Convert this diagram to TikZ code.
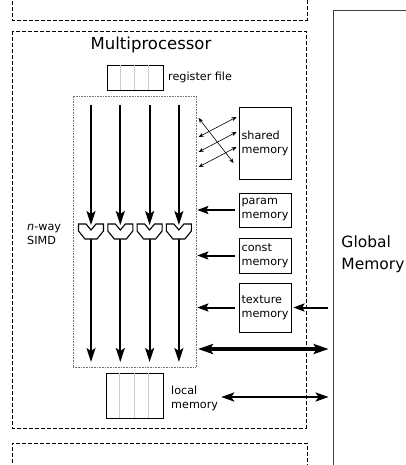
\documentclass[tikz,border=0pt]{standalone}
\usepackage{fontspec}
\setmainfont{DejaVu Sans}
\usetikzlibrary{arrows.meta}

\begin{document}
\begin{tikzpicture} [x=1pt, y=-1pt, line join=miter,
	membox/.style = {draw, line width=0.8pt, minimum width=52pt, inner xsep=2pt, align=left, font=\fontsize{11.2}{14}\selectfont},
	frame/.style = {draw, line width=0.8pt, dash pattern=on 4pt off 2pt},
	lbl/.style = {align=left, inner sep=2pt, font=\fontsize{11.2}{14}\selectfont},
	lane/.style = {line width=1.8pt, -{Stealth[length=14pt, width=9pt, inset=3pt]}},
	feed/.style = {line width=2pt, -{Stealth[length=11pt, width=8pt, inset=2pt]}},
	xfer/.style = {line width=0.6pt, {Stealth[length=5pt, width=4pt]}-{Stealth[length=5pt, width=4pt]}},
	alu/.style = {draw, line width=1.1pt, fill=white}]
\def\lanex{91}
\def\lanesep{29.3}
\newcommand{\aluunit}[1]{\draw[alu] (#1-12.5,224) -- ++(7.5,0) -- ++(5,6) -- ++(5,-6) -- ++(7.5,0) -- ++(0,7) -- ++(-6.5,8) -- ++(-12,0) -- ++(-6.5,-8) -- cycle;}
\useasboundingbox (0,0) rectangle (406,465);
\clip (0,0) rectangle (406,465);

% neighbouring multiprocessors and the global memory
\draw[frame] (12,-5) -- (12,20) -- (307,20) -- (307,-5);
\draw[frame] (12,475) -- (12,443) -- (307,443) -- (307,475);
\node[draw, line width=0.8pt, draw=black!75, minimum width=80pt, minimum height=488pt, align=left, font=\fontsize{15.5}{22}\selectfont] (global) at (373,254) {Global\\Memory};

% the multiprocessor
\draw[frame] (12,31) rectangle (306,428);
\node[font=\fontsize{16.5}{20}\selectfont] (title) at (151,45) {Multiprocessor};

% register file
\node[draw, line width=0.8pt, minimum width=56pt, minimum height=25pt] (regs) at (135,77.5) {};
\foreach \j in {1,2,3}
	\draw[black!20, line width=0.8pt] ([xshift=\j*14pt]regs.north west) -- ([xshift=\j*14pt]regs.south west);
\node[lbl, anchor=west] (regslbl) at (166,77) {register file};

% SIMD lanes
\node[draw, black!55, densely dotted, line width=0.6pt, minimum width=123pt, minimum height=271pt] (simd) at (134.5,231.5) {};
\node[lbl, anchor=west] (simdlbl) at (25,234) {\textit{n}-way\\SIMD};
\foreach \i in {0,...,3} {
	\pgfmathsetmacro{\x}{\lanex+\lanesep*\i}
	\coordinate (in\i) at (\x,105);
	\coordinate (alu\i) at (\x,225);
	\coordinate (aluout\i) at (\x,239);
	\coordinate (out\i) at (\x,362);
	\draw[lane] (in\i) -- (alu\i);
	\draw[line width=1.8pt] (aluout\i) -- ++(0,10);
	\draw[lane] (aluout\i) -- (out\i);
	\aluunit{\x}
}

% on-chip memories
\node[membox, minimum height=72pt] (shared) at (265,143) {shared\\memory};
\node[membox, minimum height=34pt] (param) at (265,210) {param\\memory};
\node[membox, minimum height=35pt] (const) at (265,255.5) {const\\memory};
\node[membox, minimum height=49pt] (texture) at (265,307.5) {texture\\memory};

\foreach \k in {0,1,2}
	\draw[xfer] ([shift={(-40,-6+15*\k)}]shared.west) -- ([shift={(-2,-26+15*\k)}]shared.west);
\draw[xfer] ([shift={(-40,-25)}]shared.west) -- ([shift={(-5,20)}]shared.west);

\foreach \m in {param,const,texture}
	\draw[feed, shorten <=4pt, shorten >=1pt] (\m.west) -- (\m.west -| simd.east);
\draw[feed, shorten <=5pt, shorten >=2pt] (global.west |- texture.east) -- (texture.east);

% device memory traffic
\coordinate (bus) at (196,349);
\draw[line width=3.6pt, {Stealth[length=15pt, width=10pt, inset=3pt]}-{Stealth[length=15pt, width=10pt, inset=3pt]}, shorten <=2pt, shorten >=4pt] (bus) -- (bus -| global.west);

% local memory
\node[draw, line width=0.8pt, minimum width=57pt, minimum height=45pt] (local) at (134.5,395.5) {};
\foreach \j in {1,2,3}
	\draw[black!20, line width=0.8pt] ([xshift=\j*14.2pt]local.north west) -- ([xshift=\j*14.2pt]local.south west);
\node[lbl, anchor=west] (locallbl) at (169,398) {local\\memory};
\draw[line width=2.6pt, {Stealth[length=13pt, width=9pt, inset=3pt]}-{Stealth[length=13pt, width=9pt, inset=3pt]}, shorten <=1pt, shorten >=4pt] (locallbl.east |- 0,397) -- (global.west |- 0,397);
\end{tikzpicture}
\end{document}
